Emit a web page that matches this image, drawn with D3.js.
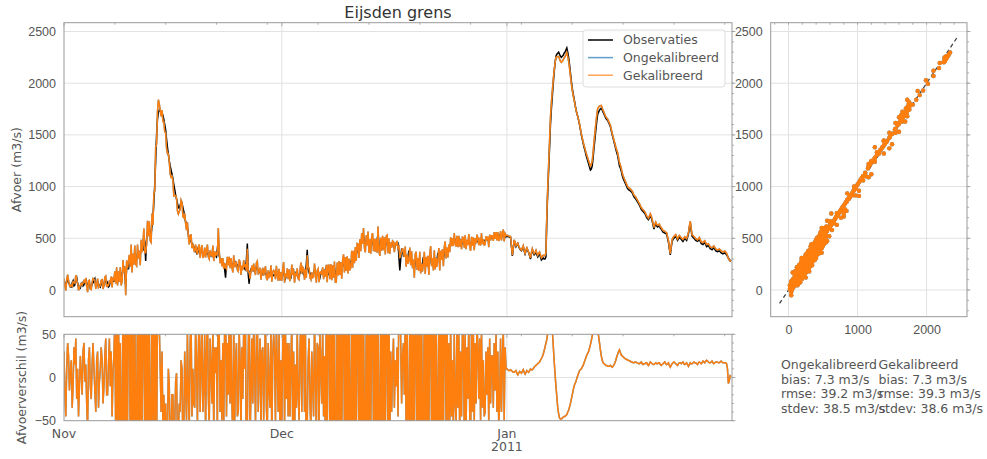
<!DOCTYPE html>
<html>
<head>
<meta charset="utf-8">
<script src="https://cdn.jsdelivr.net/npm/d3@7"></script>
<style>
  body { margin: 0; background: #fff; }
  svg { font-family: "DejaVu Sans", sans-serif; }
  .tick text { fill: #555; font-size: 12.5px; }
  .lbl { fill: #555; font-size: 12.5px; }
</style>
</head>
<body>
<div id="chart"></div>
<script>
// 3-hourly values from 1 Nov 2010 00:00, one row per day (m3/s)
const obsNov = [
  80, 60, 40, 90, 110, 70, 60, 30,
  30, 70, 90, 40, 50, 100, 120, 60,
  40, 30, 20, 60, 70, 40, 50, 80,
  100, 60, 40, 70, 60, 20, 30, 60,
  70, 90, 110, 50, 40, 80, 60, 40,
  30, 60, 80, 40, 50, 100, 90, 50,
  70, 30, 40, 90, 100, 70, 120, 80,
  110, 140, 160, 100, 90, 150, 180, 130,
  150, 190, 230, 160, 40, 210, 260, 200,
  260, 300, 330, 250, 290, 340, 360, 310,
  300, 350, 380, 320, 340, 400, 420, 380,
  520, 450, 280, 500, 560, 590, 600, 560,
  540, 620, 700, 850, 1020, 1250, 1500, 1650,
  1720, 1740, 1730, 1720, 1710, 1690, 1650, 1600,
  1550, 1460, 1380, 1310, 1250, 1200, 1160, 1120,
  1080, 1020, 970, 920, 880, 840, 800, 790,
  820, 850, 840, 800, 760, 710, 660, 630,
  600, 540, 500, 480, 470, 450, 440, 420,
  400, 380, 360, 400, 390, 360, 350, 370,
  370, 350, 340, 360, 380, 360, 350, 340,
  360, 340, 330, 360, 370, 350, 340, 330,
  320, 400, 480, 330, 300, 290, 280, 270,
  260, 200, 120, 250, 280, 260, 250, 240,
  260, 250, 240, 270, 280, 250, 230, 240,
  220, 240, 250, 210, 200, 220, 230, 210,
  190, 300, 450, 150, 60, 180, 200, 190,
  210, 190, 180, 200, 220, 200, 190, 180,
  170, 160, 150, 180, 190, 170, 160, 150,
  160, 150, 140, 170, 180, 160, 150, 140,
  150, 160, 170, 140, 130, 150, 160, 150
];
const obsDec = [
  140, 170, 190, 130, 110, 150, 170, 150,
  160, 130, 120, 180, 210, 170, 150, 140,
  180, 150, 130, 150, 160, 190, 200, 170,
  150, 140, 140, 250, 390, 200, 170, 150,
  160, 140, 130, 170, 190, 160, 140, 150,
  170, 140, 120, 160, 180, 160, 150, 170,
  200, 170, 140, 150, 170, 190, 190, 170,
  160, 190, 210, 170, 150, 180, 200, 210,
  220, 200, 190, 230, 250, 240, 240, 250,
  260, 240, 230, 260, 280, 290, 300, 310,
  320, 340, 350, 370, 380, 400, 420, 450,
  480, 510, 520, 480, 450, 470, 500, 470,
  440, 420, 410, 440, 460, 450, 430, 440,
  420, 480, 550, 450, 400, 420, 440, 450,
  450, 430, 420, 450, 470, 440, 410, 420,
  430, 450, 460, 420, 400, 430, 450, 440,
  450, 320, 190, 300, 400, 380, 330, 340,
  350, 300, 260, 320, 380, 340, 300, 290,
  280, 230, 200, 270, 310, 280, 240, 260,
  290, 230, 180, 260, 320, 280, 230, 260,
  300, 250, 210, 280, 340, 300, 250, 270,
  320, 280, 240, 300, 360, 330, 280, 310,
  350, 320, 300, 350, 390, 370, 340, 370,
  400, 420, 450, 470, 480, 490, 500, 480,
  470, 460, 450, 470, 490, 460, 440, 450,
  460, 470, 480, 460, 450, 460, 470, 460,
  450, 460, 470, 450, 440, 460, 480, 470,
  470, 460, 460, 480, 490, 480, 470, 480,
  480, 490, 500, 480, 470, 490, 510, 500,
  500, 510, 520, 510, 510, 520, 530, 530,
  530, 525, 520, 525, 525, 520, 510, 515
];
const obsJan = [
  520, 518, 515, 512, 510, 420, 330, 400,
  480, 450, 420, 440, 450, 420, 400, 390,
  380, 400, 420, 380, 350, 380, 400, 380,
  360, 330, 300, 350, 390, 360, 340, 350,
  370, 340, 320, 340, 350, 320, 290, 300,
  310, 300, 300, 320, 700, 950, 1160, 1380,
  1600, 1750, 1870, 1990, 2100, 2190, 2260, 2280,
  2290, 2300, 2280, 2260, 2250, 2260, 2270, 2290,
  2300, 2320, 2340, 2300, 2250, 2180, 2100, 2020,
  1950, 1900, 1850, 1800, 1750, 1710, 1680, 1640,
  1600, 1550, 1500, 1460, 1420, 1380, 1350, 1310,
  1280, 1250, 1220, 1190, 1160, 1170, 1200, 1280,
  1380, 1460, 1550, 1630, 1700, 1720, 1740, 1750,
  1760, 1740, 1720, 1700, 1680, 1660, 1650, 1640,
  1620, 1600, 1580, 1540, 1500, 1470, 1430, 1400,
  1360, 1330, 1300, 1250, 1200, 1180, 1150, 1110,
  1080, 1060, 1040, 1020, 1000, 980, 970, 965,
  960, 950, 940, 920, 900, 890, 880, 865,
  850, 835, 820, 800, 780, 770, 760, 750,
  740, 720, 700, 690, 680, 700, 720, 700,
  670, 630, 590, 620, 640, 620, 610, 615,
  620, 600, 590, 575, 560, 555, 550, 545,
  540, 500, 460, 400, 340, 410, 470, 490,
  500, 510, 520, 500, 480, 495, 510, 500,
  490, 480, 470, 485, 500, 490, 480, 510,
  540, 600, 650, 580, 520, 510, 500, 490,
  480, 475, 470, 480, 490, 470, 450, 445,
  440, 450, 460, 440, 420, 425, 430, 415,
  400, 395, 390, 400, 410, 395, 380, 375,
  370, 375, 380, 370, 360, 355, 350, 355,
  360, 350, 340, 325, 310, 295, 280, 290
];

// gekalibreerd minus observaties, same time steps (m3/s)
const diffNov = [
  30, -20, -45, 10, 40, 25, -15, 5,
  20, -35, -10, 35, 15, 45, -25, 10,
  -45, -10, 25, 5, -20, 30, 40, -5,
  15, -30, -60, 20, 35, -10, -25, 15,
  40, 10, -15, -40, 20, 30, -35, -5,
  10, 35, 20, -30, -10, 25, 45, -20,
  -20, 15, 45, -10, 30, -45, 5, 25,
  70, -80, 60, -55, 90, -70, 40, -85,
  -70, 100, -60, 65, -90, 75, -50, 80,
  80, -75, 110, -80, 60, -95, 70, -60,
  -65, 90, -75, 60, -100, 85, -55, 70,
  75, -90, 80, -60, 110, -70, 65, -85,
  -80, 120, -70, 85, -60, 130, -90, 75,
  120, 60, 10, -40, 30, -60, -20, -70,
  -30, -90, -60, 10, -10, -80, -70, -20,
  -20, -110, -55, -5, 5, -75, -65, -30,
  -40, 20, 10, -90, -60, 30, -15, -50,
  55, -20, -60, 40, 70, -45, 10, -30,
  -35, 60, 20, -55, 30, 80, -40, 15,
  65, -40, -10, 50, -65, 25, 90, -20,
  -60, 45, 10, -30, 60, -70, 35, 5,
  35, -65, 120, 55, -40, 20, -50, 40,
  -55, 60, 100, -45, 40, -20, 70, -30,
  50, -30, -70, 65, -60, 15, 40, -45,
  -40, 55, 20, -65, 35, -25, 60, 10,
  60, -120, -50, 30, 110, -70, -20, 45,
  -30, 65, 15, -55, 45, 80, -40, 10,
  45, -60, 30, 35, -50, 20, 70, -35,
  -65, 40, -15, -35, 60, -80, 25, 50,
  30, -55, 65, 10, -40, 55, -70, 20
];
const diffDec = [
  -50, 35, 80, -60, 55, -25, 40, -45,
  40, -45, 20, 65, -65, 30, -80, 15,
  -35, 60, -20, -50, 30, 75, -40, 50,
  55, -40, 60, -130, -55, 20, 45, -30,
  -60, 30, -10, -45, 65, 10, -70, 40,
  35, -65, 50, 15, -30, 60, -45, 25,
  -70, 75, -65, 90, 70, -85, 60, -75,
  80, -70, 65, -95, -75, 85, -60, 70,
  -75, 70, -80, 60, 95, -70, 80, -65,
  65, -80, 75, -70, -60, 90, -85, 70,
  -60, 75, -70, 80, 65, -90, 70, -75,
  70, -65, 80, -75, -85, 60, -70, 95,
  -80, 70, -60, 75, 90, -75, 65, -70,
  75, -120, 65, -80, -70, 85, -60, 75,
  -65, 80, -75, 70, 60, -85, 90, -70,
  30, -40, 15, 45, -35, 20, -10, 35,
  -45, 100, 120, 40, -30, 25, 40, -20,
  70, -75, 80, -65, -90, 70, -60, 85,
  -70, 65, -80, 75, 60, -85, 70, -75,
  80, -70, 75, -80, -65, 90, -75, 60,
  -75, 80, -65, 70, 85, -70, 60, -80,
  65, -80, 70, -75, -60, 75, -90, 70,
  -60, 75, -70, 65, 80, -65, 70, -55,
  40, -55, 60, -45, 20, -65, 50, -30,
  -50, 65, -35, 55, -70, 30, -45, 60,
  45, -60, 50, -65, 35, -25, 70, -40,
  -70, 55, -40, 60, -55, 40, -30, 65,
  35, -25, 45, -50, 60, -35, 20, -45,
  -40, 30, -20, 35, -55, 45, -30, 25,
  25, -35, 40, -15, 50, -40, 30, -55,
  -30, 45, -40, 20, 60, -50, 35, 10
];
const diffJan = [
  10, 9, 8, 8, 9, 8, 7, 6,
  6, 7, 8, 5, 3, 5, 7, 6,
  5, 7, 9, 6, 4, 6, 8, 7,
  6, 8, 10, 9, 9, 10, 12, 13,
  14, 15, 16, 17, 18, 20, 22, 24,
  27, 31, 35, 40, 44, 52, 60, 66,
  70, 64, 55, 38, 20, 5, -10, -22,
  -35, -42, -47, -48, -48, -47, -46, -45,
  -45, -44, -43, -40, -38, -34, -30, -25,
  -20, -15, -10, -7, -5, -1, 2, 5,
  8, 9, 10, 12, 14, 17, 20, 23,
  26, 28, 30, 34, 38, 43, 48, 53,
  58, 62, 65, 60, 55, 48, 40, 32,
  25, 20, 17, 16, 15, 14, 14, 13,
  13, 13, 14, 13, 12, 13, 15, 17,
  20, 24, 27, 30, 32, 29, 26, 25,
  24, 23, 22, 21, 21, 20, 20, 19,
  19, 18, 18, 17, 17, 18, 18, 17,
  17, 16, 16, 17, 18, 16, 15, 16,
  16, 17, 17, 15, 14, 16, 18, 17,
  16, 15, 15, 16, 17, 16, 16, 17,
  17, 15, 14, 15, 16, 17, 18, 16,
  15, 16, 17, 14, 12, 14, 16, 17,
  18, 17, 16, 15, 14, 16, 17, 17,
  16, 17, 18, 16, 15, 16, 17, 15,
  13, 15, 17, 16, 16, 17, 18, 17,
  17, 16, 15, 17, 18, 17, 16, 17,
  19, 18, 17, 19, 20, 19, 18, 17,
  17, 18, 19, 17, 16, 17, 18, 18,
  18, 17, 17, 18, 19, 18, 17, 17,
  17, 17, 16, 10, -7, -4, 2, 1
];

const yTicks = [0, 500, 1000, 1500, 2000, 2500];
const diffTicks = [-50, 0, 50];
const scatterXTicks = [0, 1000, 2000];
const monthLabels = [["Nov"], ["Dec"], ["Jan", "2011"]];
const oneToOne = [-130, 2450];
const seriesNames = ["Observaties", "Ongekalibreerd", "Gekalibreerd"];
const seriesColors = ["#000000", "#1f77b4", "#ff7f0e"];
const statsUncal = ["Ongekalibreerd", "bias: 7.3 m3/s", "rmse: 39.2 m3/s", "stdev: 38.5 m3/s"];
const statsCal = ["Gekalibreerd", "bias: 7.3 m3/s", "rmse: 39.3 m3/s", "stdev: 38.6 m3/s"];

const observaties = [...obsNov, ...obsDec, ...obsJan];
const verschil = [...diffNov, ...diffDec, ...diffJan];
// the uncalibrated run lies under the calibrated one in the picture
const verschilOngekal = verschil;

const t0 = Date.UTC(2010, 10, 1);
const tEnd = Date.UTC(2011, 1, 1);
const step = 3 * 3600 * 1000;
const data = observaties.map((v, i) => ({
  date: new Date(t0 + i * step),
  obs: v,
  cal: v + verschil[i],
  uncal: v + verschilOngekal[i],
  dCal: verschil[i],
  dUncal: verschilOngekal[i]
}));

const W = 987, H = 459;
const svg = d3.select("#chart").append("svg").attr("width", W).attr("height", H);

const main = { left: 64, right: 732, top: 22.7, bottom: 316.7 };
const dbox = { left: 64, right: 732, top: 334.3, bottom: 420.7 };
const sbox = { left: 770.7, right: 967, top: 22.7, bottom: 316.7 };

const x = d3.scaleUtc().domain([new Date(t0), new Date(tEnd)]).range([main.left, main.right]);
const y = d3.scaleLinear().domain([-258, 2585]).range([main.bottom, main.top]);
const yd = d3.scaleLinear().domain([-50, 50]).range([dbox.bottom, dbox.top]);
const xs = d3.scaleLinear().domain([-258, 2585]).range([sbox.left, sbox.right]);

const months = d3.utcMonth.range(new Date(t0), new Date(tEnd));
const mondays = d3.utcMonday.range(new Date(Date.UTC(2010, 10, 2)), new Date(tEnd));

const gridColor = "#e2e2e2";
const spineColor = "#999";

function clip(id, b) {
  svg.append("clipPath").attr("id", id).append("rect")
    .attr("x", b.left).attr("y", b.top)
    .attr("width", b.right - b.left).attr("height", b.bottom - b.top);
}
clip("clipMain", main);
clip("clipDiff", dbox);
clip("clipScatter", sbox);

function hGrid(vals, scale, b) {
  svg.append("g").selectAll("line").data(vals).join("line")
    .attr("x1", b.left).attr("x2", b.right)
    .attr("y1", d => scale(d)).attr("y2", d => scale(d))
    .attr("stroke", gridColor).attr("stroke-width", 1);
}
function vGrid(vals, scale, b) {
  svg.append("g").selectAll("line").data(vals).join("line")
    .attr("y1", b.top).attr("y2", b.bottom)
    .attr("x1", d => scale(d)).attr("x2", d => scale(d))
    .attr("stroke", gridColor).attr("stroke-width", 1);
}
// small tick marks: "top" points down into the box, "right" points outwards
function marks(vals, scale, b, side, len) {
  const g = svg.append("g").selectAll("line").data(vals).join("line")
    .attr("stroke", spineColor).attr("stroke-width", 0.8);
  if (side === "top") {
    g.attr("x1", d => scale(d)).attr("x2", d => scale(d))
      .attr("y1", b.top).attr("y2", b.top + len);
  } else {
    g.attr("y1", d => scale(d)).attr("y2", d => scale(d))
      .attr("x1", b.right).attr("x2", b.right + len);
  }
}
function spine(b) {
  svg.append("rect")
    .attr("x", b.left).attr("y", b.top)
    .attr("width", b.right - b.left).attr("height", b.bottom - b.top)
    .attr("fill", "none").attr("stroke", spineColor).attr("stroke-width", 1);
}

// ---- main panel ----
hGrid(yTicks, y, main);
vGrid(months.slice(1), x, main);

const lineObs = d3.line().x(d => x(d.date)).y(d => y(d.obs));
const lineUncal = d3.line().x(d => x(d.date)).y(d => y(d.uncal));
const lineCal = d3.line().x(d => x(d.date)).y(d => y(d.cal));

const gm = svg.append("g").attr("clip-path", "url(#clipMain)");
gm.append("path").datum(data).attr("d", lineObs)
  .attr("fill", "none").attr("stroke", seriesColors[0]).attr("stroke-width", 1.5);
gm.append("path").datum(data).attr("d", lineUncal)
  .attr("fill", "none").attr("stroke", seriesColors[1]).attr("stroke-width", 1.5).attr("opacity", 0.8);
gm.append("path").datum(data).attr("d", lineCal)
  .attr("fill", "none").attr("stroke", seriesColors[2]).attr("stroke-width", 1.5);

svg.append("g")
  .attr("transform", `translate(${main.left},0)`)
  .call(d3.axisLeft(y).tickValues(yTicks).tickSize(0).tickPadding(8).tickFormat(d3.format("d")))
  .call(g => g.select(".domain").remove());

marks(mondays, x, main, "top", 2);
marks(months, x, main, "top", 3.5);
marks(d3.range(-200, 2600, 100), y, main, "right", 2);
marks(yTicks, y, main, "right", 3.5);
spine(main);

svg.append("text")
  .attr("x", (main.left + main.right) / 2).attr("y", 18)
  .attr("text-anchor", "middle").attr("fill", "#333").attr("font-size", "16px")
  .text("Eijsden grens");

svg.append("text").attr("class", "lbl")
  .attr("text-anchor", "middle")
  .attr("transform", `translate(17,${(main.top + main.bottom) / 2}) rotate(-90)`)
  .attr("dy", "0.35em")
  .text("Afvoer (m3/s)");

// legend
const legend = svg.append("g").attr("transform", "translate(583,30)");
legend.append("rect").attr("width", 142).attr("height", 57).attr("rx", 3)
  .attr("fill", "#fff").attr("fill-opacity", 0.85).attr("stroke", "#ddd");
seriesNames.forEach((name, i) => {
  const row = legend.append("g").attr("transform", `translate(0,${10 + i * 17.6})`);
  row.append("line").attr("x1", 5).attr("x2", 30)
    .attr("stroke", seriesColors[i]).attr("stroke-width", 1.5)
    .attr("opacity", i === 0 ? 1 : 0.7);
  row.append("text").attr("class", "lbl").attr("x", 40).attr("dy", "0.35em").text(name);
});

// ---- difference panel ----
hGrid([0], yd, dbox);
vGrid(months.slice(1), x, dbox);

const lineDUncal = d3.line().x(d => x(d.date)).y(d => yd(d.dUncal));
const lineDCal = d3.line().x(d => x(d.date)).y(d => yd(d.dCal));
const gd = svg.append("g").attr("clip-path", "url(#clipDiff)");
gd.append("path").datum(data).attr("d", lineDUncal)
  .attr("fill", "none").attr("stroke", seriesColors[1]).attr("stroke-width", 1.5).attr("opacity", 0.8);
gd.append("path").datum(data).attr("d", lineDCal)
  .attr("fill", "none").attr("stroke", seriesColors[2]).attr("stroke-width", 1.5);

svg.append("g")
  .attr("transform", `translate(${dbox.left},0)`)
  .call(d3.axisLeft(yd).tickValues(diffTicks).tickSize(0).tickPadding(8))
  .call(g => g.select(".domain").remove());

marks(mondays, x, dbox, "top", 2);
marks(months, x, dbox, "top", 3.5);
marks(d3.range(-50, 51, 10), yd, dbox, "right", 2);
marks(diffTicks, yd, dbox, "right", 3.5);
spine(dbox);

const monthAxis = svg.append("g");
months.forEach((m, i) => {
  const t = monthAxis.append("text").attr("class", "lbl")
    .attr("text-anchor", "middle").attr("x", x(m)).attr("y", dbox.bottom + 17);
  monthLabels[i].forEach((s, k) => {
    t.append("tspan").attr("x", x(m)).attr("dy", k === 0 ? 0 : 13.5).text(s);
  });
});

svg.append("text").attr("class", "lbl")
  .attr("text-anchor", "middle")
  .attr("transform", `translate(22,${(dbox.top + dbox.bottom) / 2}) rotate(-90)`)
  .attr("dy", "0.35em")
  .text("Afvoerverschil (m3/s)");

// ---- scatter panel ----
hGrid(yTicks, y, sbox);
vGrid(scatterXTicks, xs, sbox);

const gs = svg.append("g").attr("clip-path", "url(#clipScatter)");
gs.append("line")
  .attr("x1", xs(oneToOne[0])).attr("y1", y(oneToOne[0]))
  .attr("x2", xs(oneToOne[1])).attr("y2", y(oneToOne[1]))
  .attr("stroke", "#444").attr("stroke-width", 1.3).attr("stroke-dasharray", "4,3");
gs.append("g").selectAll("circle").data(data).join("circle")
  .attr("cx", d => xs(d.obs)).attr("cy", d => y(d.uncal)).attr("r", 2.2)
  .attr("fill", seriesColors[1]).attr("opacity", 0.8);
gs.append("g").selectAll("circle").data(data).join("circle")
  .attr("cx", d => xs(d.obs)).attr("cy", d => y(d.cal)).attr("r", 2.2)
  .attr("fill", seriesColors[2]);

svg.append("g")
  .attr("transform", `translate(${sbox.left},0)`)
  .call(d3.axisLeft(y).tickValues(yTicks).tickSize(0).tickPadding(8).tickFormat(d3.format("d")))
  .call(g => g.select(".domain").remove());
svg.append("g")
  .attr("transform", `translate(0,${sbox.bottom})`)
  .call(d3.axisBottom(xs).tickValues(scatterXTicks).tickSize(0).tickPadding(8).tickFormat(d3.format("d")))
  .call(g => g.select(".domain").remove());

marks(d3.range(-200, 2600, 200), xs, sbox, "top", 2);
marks(d3.range(-200, 2600, 100), y, sbox, "right", 2);
marks(yTicks, y, sbox, "right", 3.5);
spine(sbox);

// statistics
[statsUncal, statsCal].forEach((lines, c) => {
  const t = svg.append("text").attr("class", "lbl")
    .attr("x", 781 + c * 97.5).attr("y", 369.3);
  lines.forEach((s, k) => {
    t.append("tspan").attr("x", 781 + c * 97.5).attr("dy", k === 0 ? 0 : 14.4).text(s);
  });
});
</script>
</body>
</html>
